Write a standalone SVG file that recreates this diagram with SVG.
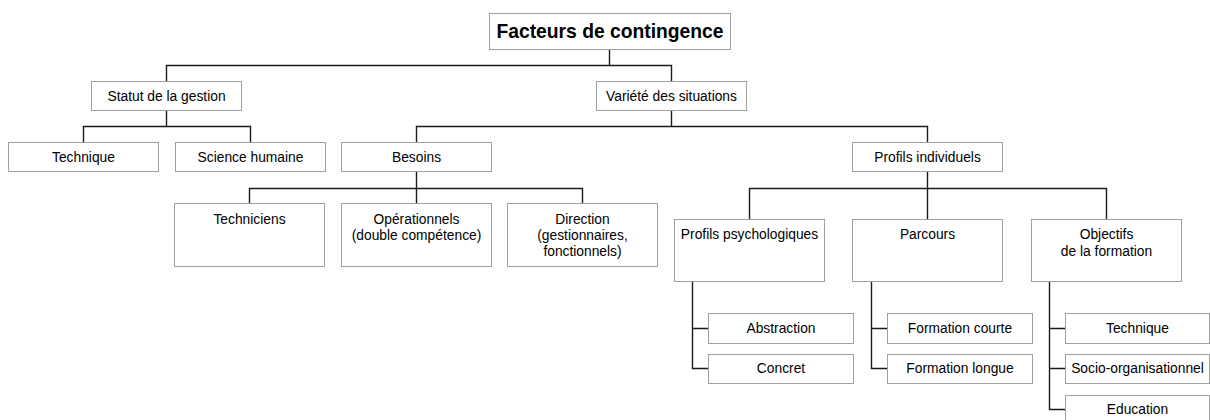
<svg xmlns="http://www.w3.org/2000/svg" width="1210" height="420" viewBox="0 0 1210 420">
<defs>
<style>
.box{fill:#ffffff;stroke:#a0a0a0;stroke-width:1}
.t{font-family:"Liberation Sans",Arial,sans-serif;font-size:13.8px;fill:#000;text-anchor:middle}
.root{font-family:"Liberation Sans",Arial,sans-serif;font-size:19.3px;font-weight:bold;fill:#000;text-anchor:middle}
.c{fill:none;stroke:#1a1a1a;stroke-width:1.4}
</style>
</defs>
<rect width="1210" height="420" fill="#ffffff"/>
<g id="connectors">
<path class="c" d="M609.5 49.5V65.5M166.5 81.5V65.5H671.5V81.5"/>
<path class="c" d="M166.5 110.5V126.5M83.5 142.5V126.5H250.5V142.5"/>
<path class="c" d="M671.5 110.5V126.5M416.5 142.5V126.5H927.5V142.5"/>
<path class="c" d="M416.5 171.5V203.5M249.5 203.5V188.5H582.5V203.5"/>
<path class="c" d="M927.5 171.5V219.5M749.5 219.5V188.5H1106.5V219.5"/>
<path class="c" d="M692.5 281.5V368.5H708.5M692.5 328.5H708.5"/>
<path class="c" d="M871.5 281.5V368.5H887.5M871.5 328.5H887.5"/>
<path class="c" d="M1049.5 281.5V409.5H1065.5M1049.5 328.5H1065.5M1049.5 368.5H1065.5"/>
</g>
<g id="root"><rect class="box" x="489.5" y="13.5" width="241" height="36"/><text class="root" x="610" y="37.5">Facteurs de contingence</text></g>
<g id="statut"><rect class="box" x="91.5" y="81.5" width="150" height="29"/><text class="t" x="166.5" y="100.5">Statut de la gestion</text></g>
<g id="variete"><rect class="box" x="596.5" y="81.5" width="150" height="29"/><text class="t" x="671.5" y="100.5">Variété des situations</text></g>
<g id="technique"><rect class="box" x="8.5" y="142.5" width="150" height="29"/><text class="t" x="83.5" y="161.5">Technique</text></g>
<g id="science"><rect class="box" x="175.5" y="142.5" width="150" height="29"/><text class="t" x="250.5" y="161.5">Science humaine</text></g>
<g id="besoins"><rect class="box" x="341.5" y="142.5" width="150" height="29"/><text class="t" x="416.5" y="161.5">Besoins</text></g>
<g id="profils-individuels"><rect class="box" x="852.5" y="142.5" width="150" height="29"/><text class="t" x="927.5" y="161.5">Profils individuels</text></g>
<g id="techniciens"><rect class="box" x="174.5" y="203.5" width="150" height="63"/><text class="t" x="249.5" y="224">Techniciens</text></g>
<g id="operationnels"><rect class="box" x="341.5" y="203.5" width="150" height="63"/><text class="t" x="416.5" y="224">Opérationnels</text><text class="t" x="416.5" y="240">(double compétence)</text></g>
<g id="direction"><rect class="box" x="507.5" y="203.5" width="150" height="63"/><text class="t" x="582.5" y="224">Direction</text><text class="t" x="582.5" y="240">(gestionnaires,</text><text class="t" x="582.5" y="256">fonctionnels)</text></g>
<g id="profils-psychologiques"><rect class="box" x="674.5" y="219.5" width="150" height="62"/><text class="t" x="749.5" y="239">Profils psychologiques</text></g>
<g id="parcours"><rect class="box" x="852.5" y="219.5" width="150" height="62"/><text class="t" x="927.5" y="239">Parcours</text></g>
<g id="objectifs"><rect class="box" x="1031.5" y="219.5" width="150" height="62"/><text class="t" x="1106.5" y="239">Objectifs</text><text class="t" x="1106.5" y="256">de la formation</text></g>
<g id="abstraction"><rect class="box" x="708.5" y="313.5" width="145" height="30"/><text class="t" x="781" y="333">Abstraction</text></g>
<g id="concret"><rect class="box" x="708.5" y="354.5" width="145" height="29"/><text class="t" x="781" y="373">Concret</text></g>
<g id="formation-courte"><rect class="box" x="887.5" y="313.5" width="145" height="30"/><text class="t" x="960" y="333">Formation courte</text></g>
<g id="formation-longue"><rect class="box" x="887.5" y="354.5" width="145" height="29"/><text class="t" x="960" y="373">Formation longue</text></g>
<g id="technique-obj"><rect class="box" x="1065.5" y="313.5" width="144" height="30"/><text class="t" x="1137.5" y="333">Technique</text></g>
<g id="socio"><rect class="box" x="1065.5" y="354.5" width="144" height="29"/><text class="t" x="1137.5" y="373">Socio-organisationnel</text></g>
<g id="education"><rect class="box" x="1065.5" y="395.5" width="144" height="30"/><text class="t" x="1137.5" y="414">Education</text></g>
</svg>
